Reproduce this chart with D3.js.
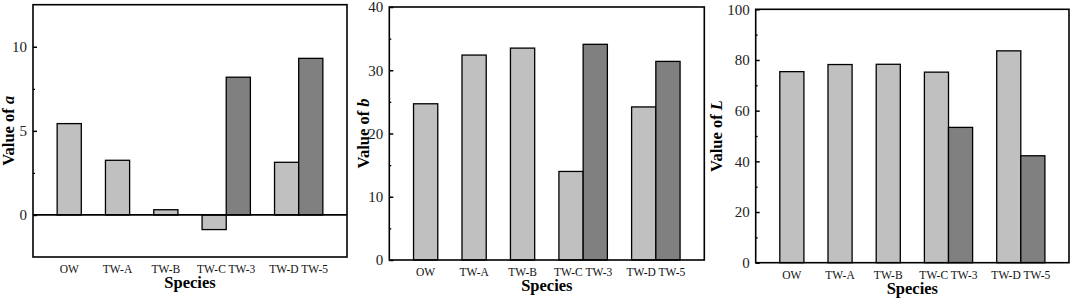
<!DOCTYPE html>
<html>
<head>
<meta charset="utf-8">
<script src="https://cdn.jsdelivr.net/npm/d3@7"></script>
<style>
  body { margin: 0; background: #fff; }
  svg { display: block; }
  text { font-family: "Liberation Serif", "Times New Roman", serif; }
</style>
</head>
<body>
<script>
// bar labels, in drawing order
var categories = ["OW", "TW-A", "TW-B", "TW-C", "TW-3", "TW-D", "TW-5"];
// 0 = light bar, 1 = dark bar paired with the one before it
var seriesIdx = [0, 0, 0, 0, 1, 0, 1];

var aValues = [5.43, 3.25, 0.31, -0.87, 8.19, 3.13, 9.31];
var bValues = [24.7, 32.4, 33.5, 14.0, 34.1, 24.2, 31.4];
var lValues = [75.4, 78.2, 78.3, 75.2, 53.4, 83.6, 42.2];

var aTicks = [0, 5, 10], aMinor = [2.5, 7.5];
var bTicks = [0, 10, 20, 30, 40], bMinor = [5, 15, 25, 35];
var lTicks = [0, 20, 40, 60, 80, 100], lMinor = [10, 30, 50, 70, 90];

var W = 1072, H = 303;
var colors = ["#c0c0c0", "#808080"];

var svg = d3.select("body").append("svg")
	.attr("width", W)
	.attr("height", H);

// slot position of each bar: paired bars sit half a slot after their partner
var slots = [];
seriesIdx.forEach(function(s, i) {
	if (i == 0) slots.push(0);
	else slots.push(slots[i - 1] + (s == 1 ? 0.5 : 1));
});

var panels = [
	{values: aValues, sym: "a", domain: [-2.5, 12.5], ticks: aTicks, minor: aMinor,
		left: 33, top: 4.7, right: 347, bottom: 257, titleGap: 19.5},
	{values: bValues, sym: "b", domain: [0, 40], ticks: bTicks, minor: bMinor,
		left: 389.3, top: 7, right: 704.3, bottom: 260, titleGap: 20},
	{values: lValues, sym: "L", domain: [0, 100], ticks: lTicks, minor: lMinor,
		left: 755.7, top: 9.3, right: 1069, bottom: 262.7, titleGap: 34}
];

panels.forEach(function(p) {
	var w = p.right - p.left, h = p.bottom - p.top;

	var x = d3.scaleLinear()
		.domain([-0.75, d3.max(slots) + 0.75])
		.range([0, w]);

	var y = d3.scaleLinear()
		.domain(p.domain)
		.range([h, 0]);

	var g = svg.append("g")
		.attr("transform", "translate(" + p.left + "," + p.top + ")");

	var bw = x(0.5) - x(0);

	// bars
	g.selectAll(".bar")
		.data(p.values)
		.enter().append("rect")
			.attr("class", "bar")
			.attr("x", function(d, i) { return x(slots[i]) - bw / 2; })
			.attr("y", function(d) { return y(Math.max(0, d)); })
			.attr("width", bw)
			.attr("height", function(d) { return Math.abs(y(d) - y(0)); })
			.attr("fill", function(d, i) { return colors[seriesIdx[i]]; })
			.attr("stroke", "#000")
			.attr("stroke-width", 1.3);

	// zero line when the axis goes below zero
	if (p.domain[0] < 0) {
		g.append("line")
			.attr("x1", 0).attr("x2", w)
			.attr("y1", y(0)).attr("y2", y(0))
			.attr("stroke", "#000")
			.attr("stroke-width", 1.8);
	}

	// y axis, ticks pointing inwards
	var yAxis = d3.axisLeft(y)
		.tickValues(p.ticks)
		.tickSize(-4)
		.tickPadding(6)
		.tickFormat(d3.format("d"));

	var ya = g.append("g").call(yAxis);
	ya.select(".domain").remove();
	ya.selectAll("line").attr("stroke", "#000").attr("stroke-width", 1.5);
	ya.selectAll("text")
		.attr("font-size", 15)
		.attr("fill", "#222")
		.style("font-family", "'Liberation Serif', 'Times New Roman', serif");

	var ym = g.append("g").call(d3.axisLeft(y).tickValues(p.minor).tickSize(-2).tickFormat(""));
	ym.select(".domain").remove();
	ym.selectAll("line").attr("stroke", "#000").attr("stroke-width", 1.3);

	// frame
	g.append("rect")
		.attr("width", w)
		.attr("height", h)
		.attr("fill", "none")
		.attr("stroke", "#000")
		.attr("stroke-width", 1.6);

	// category labels, pairs share one label
	var labels = [];
	categories.forEach(function(c, i) {
		if (seriesIdx[i] == 1) return;
		if (seriesIdx[i + 1] == 1)
			labels.push({text: c + " " + categories[i + 1], pos: (slots[i] + slots[i + 1]) / 2});
		else
			labels.push({text: c, pos: slots[i]});
	});

	g.selectAll(".cat")
		.data(labels)
		.enter().append("text")
			.attr("class", "cat")
			.attr("x", function(d) { return x(d.pos); })
			.attr("y", h + 16)
			.attr("text-anchor", "middle")
			.attr("font-size", 11.5)
			.attr("fill", "#111")
			.text(function(d) { return d.text; });

	// axis titles
	g.append("text")
		.attr("x", w / 2)
		.attr("y", h + 31)
		.attr("text-anchor", "middle")
		.attr("font-size", 16.5)
		.attr("font-weight", "bold")
		.text("Species");

	var t = g.append("text")
		.attr("transform", "translate(" + (-p.titleGap) + "," + (h / 2) + ") rotate(-90)")
		.attr("text-anchor", "middle")
		.attr("font-size", 16.5)
		.attr("font-weight", "bold");
	t.append("tspan").text("Value of ");
	t.append("tspan").attr("font-style", "italic").text(p.sym);
});
</script>
</body>
</html>
